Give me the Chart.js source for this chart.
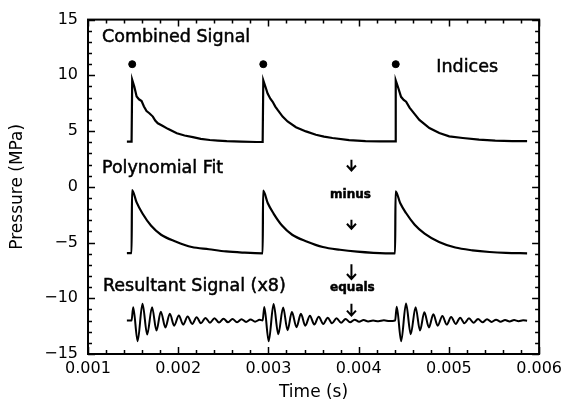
<!DOCTYPE html>
<html>
<head>
<meta charset="utf-8">
<script src="https://cdn.jsdelivr.net/npm/chart.js@4"></script>
<style>
  html, body { margin: 0; padding: 0; background: #fff; }
  #wrap { width: 567px; height: 399px; }
</style>
</head>
<body>
<div id="wrap"><canvas id="c" width="567" height="399"></canvas></div>
<script>
// ---- Data (time in seconds, pressure in MPa) ----
const combinedTime = [
  0.001431, 0.001483, 0.001490, 0.001513, 0.001539, 0.001565, 0.001594, 0.001620, 0.001649, 0.001680,
  0.001719, 0.001745, 0.001774, 0.001830, 0.001885, 0.001985, 0.002070, 0.002162, 0.002250, 0.002350,
  0.002440, 0.002538, 0.002700, 0.002869,
  0.002936, 0.002943, 0.002966, 0.002991, 0.003021, 0.003047, 0.003076, 0.003102, 0.003157, 0.003212,
  0.003305, 0.003416, 0.003526, 0.003616, 0.003710, 0.003894, 0.004076, 0.004236,
  0.004404, 0.004411, 0.004434, 0.004470, 0.004499, 0.004526, 0.004564, 0.004599, 0.004673, 0.004784,
  0.004894, 0.005004, 0.005154, 0.005334, 0.005514, 0.005704, 0.005867
];
const combinedValues = [
  4.05, 4.05, 9.6, 9.0, 8.1, 7.85, 7.7, 7.2, 6.8, 6.6,
  6.3, 5.95, 5.7, 5.45, 5.2, 4.8, 4.6, 4.45, 4.3, 4.2,
  4.15, 4.1, 4.05, 4.02,
  4.02, 9.55, 9.0, 8.36, 7.9, 7.63, 7.2, 6.9, 6.3, 5.86,
  5.35, 4.97, 4.67, 4.5, 4.38, 4.18, 4.1, 4.08,
  4.07, 9.55, 9.0, 8.07, 7.8, 7.63, 7.1, 6.74, 6.0, 5.27,
  4.82, 4.53, 4.38, 4.23, 4.14, 4.1, 4.09
];

const fitTime = [
  0.001431, 0.001483, 0.001488, 0.001539, 0.001604, 0.001700, 0.001810, 0.001970, 0.002150, 0.002340,
  0.002530, 0.002710, 0.002936,
  0.002941, 0.002992, 0.003057, 0.003153, 0.003263, 0.003423, 0.003603, 0.003793, 0.003983, 0.004163,
  0.004404,
  0.004409, 0.004460, 0.004525, 0.004621, 0.004731, 0.004891, 0.005071, 0.005261, 0.005451, 0.005631,
  0.005867
];
const fitValues = [
  -5.95, -5.95, -0.3, -1.4, -2.4, -3.5, -4.3, -4.9, -5.4, -5.6,
  -5.8, -5.9, -5.97,
  -0.35, -1.45, -2.4, -3.5, -4.3, -4.9, -5.4, -5.65, -5.82, -5.92,
  -5.98,
  -0.4, -1.45, -2.35, -3.4, -4.2, -4.95, -5.45, -5.7, -5.85, -5.93,
  -5.97
];

const resultTime = [
  0.001431, 0.001483, 0.001501, 0.001550, 0.001604, 0.001656, 0.001710, 0.001759, 0.001807, 0.001858,
  0.001907, 0.001955, 0.002007, 0.002055, 0.002104, 0.002155, 0.002204, 0.002252, 0.002302, 0.002352,
  0.002402, 0.002452, 0.002502, 0.002552, 0.002602, 0.002652, 0.002702, 0.002752, 0.002802, 0.002852,
  0.002902, 0.002936,
  0.002954, 0.003003, 0.003057, 0.003109, 0.003163, 0.003212, 0.003260, 0.003311, 0.003360, 0.003408,
  0.003460, 0.003508, 0.003557, 0.003608, 0.003657, 0.003705, 0.003755, 0.003805, 0.003855, 0.003905,
  0.003955, 0.004005, 0.004055, 0.004105, 0.004160, 0.004220, 0.004280, 0.004340, 0.004404,
  0.004422, 0.004471, 0.004525, 0.004577, 0.004631, 0.004680, 0.004728, 0.004779, 0.004828, 0.004876,
  0.004928, 0.004976, 0.005025, 0.005076, 0.005125, 0.005173, 0.005223, 0.005273, 0.005323, 0.005373,
  0.005423, 0.005473, 0.005523, 0.005573, 0.005623, 0.005673, 0.005723, 0.005773, 0.005823, 0.005867
];
const resultValues = [
  -12.00, -12.00, -10.80, -13.85, -10.50, -13.25, -10.80, -12.90, -11.20, -12.62,
  -11.38, -12.46, -11.54, -12.36, -11.64, -12.30, -11.70, -12.24, -11.76, -12.20,
  -11.80, -12.18, -11.83, -12.16, -11.86, -12.15, -11.88, -12.12, -11.90, -12.10,
  -11.93, -12.00,
  -10.78, -13.85, -10.52, -13.22, -10.82, -12.86, -11.24, -12.60, -11.40, -12.46,
  -11.56, -12.36, -11.66, -12.30, -11.74, -12.25, -11.80, -12.20, -11.85, -12.15,
  -11.92, -12.10, -11.96, -12.08, -12.00, -12.06, -11.98, -12.05, -12.00,
  -10.75, -13.85, -10.48, -13.22, -10.80, -12.90, -11.26, -12.62, -11.43, -12.46,
  -11.58, -12.36, -11.68, -12.30, -11.74, -12.25, -11.80, -12.20, -11.85, -12.16,
  -11.88, -12.12, -11.92, -12.10, -11.95, -12.08, -11.96, -12.06, -11.98, -12.02
];

const indexTime = [0.001490, 0.002943, 0.004411];
const indexValues = [11, 11, 11];

const xTickValues = [0.001, 0.002, 0.003, 0.004, 0.005, 0.006];
const yTickValues = [-15, -10, -5, 0, 5, 10, 15];

// ---- Annotation texts (placed in data coordinates) ----
const labels = [
  { text: 'Combined Signal', t: 0.001155, v: 13.4, align: 'left', font: '17.5px "DejaVu Sans"' },
  { text: 'Indices', t: 0.004861, v: 10.75, align: 'left', font: '17.5px "DejaVu Sans"' },
  { text: 'Polynomial Fit', t: 0.001155, v: 1.64, align: 'left', font: '17.5px "DejaVu Sans"' },
  { text: 'minus', t: 0.003909, v: -0.75, align: 'center', font: 'bold 12px "DejaVu Sans"' },
  { text: 'Resultant Signal (x8)', t: 0.001166, v: -8.9, align: 'left', font: '17.5px "DejaVu Sans"' },
  { text: 'equals', t: 0.003931, v: -9.07, align: 'center', font: 'bold 12px "DejaVu Sans"' }
];
const arrows = [
  { t: 0.00392, v1: 2.43, v2: 1.46 },
  { t: 0.00392, v1: -2.96, v2: -3.76 },
  { t: 0.00392, v1: -6.95, v2: -8.27 },
  { t: 0.00392, v1: -10.49, v2: -11.55 }
];

const pts = (ts, vs) => ts.map((t, i) => ({ x: t, y: vs[i] }));

const framePlugin = {
  id: 'frame',
  afterDraw(chart) {
    const { ctx, chartArea: a, scales } = chart;
    const xs = scales.x, ys = scales.y;
    ctx.save();
    ctx.strokeStyle = '#000';
    ctx.lineWidth = 2;
    ctx.strokeRect(a.left, a.top, a.right - a.left, a.bottom - a.top);
    ctx.lineWidth = 1.5;
    ctx.beginPath();
    for (let i = 0; i <= 25; i++) {
      const v = xTickValues[0] + i * 0.0002;
      const px = Math.round(xs.getPixelForValue(v)) + 0.5;
      const L = i % 5 === 0 ? 7 : 4;
      ctx.moveTo(px, a.bottom); ctx.lineTo(px, a.bottom - L);
      ctx.moveTo(px, a.top); ctx.lineTo(px, a.top + L);
    }
    for (let i = 0; i <= 30; i++) {
      const v = yTickValues[0] + i;
      const py = Math.round(ys.getPixelForValue(v)) + 0.5;
      const L = i % 5 === 0 ? 7 : 4;
      ctx.moveTo(a.left, py); ctx.lineTo(a.left + L, py);
      ctx.moveTo(a.right, py); ctx.lineTo(a.right - L, py);
    }
    ctx.stroke();

    // annotations
    ctx.fillStyle = '#000';
    ctx.strokeStyle = '#000';
    ctx.textBaseline = 'middle';
    labels.forEach(l => {
      ctx.font = l.font;
      ctx.textAlign = l.align;
      const x = xs.getPixelForValue(l.t), y = ys.getPixelForValue(l.v);
      ctx.lineWidth = 0.5;
      ctx.fillText(l.text, x, y);
      ctx.strokeText(l.text, x, y);
    });
    ctx.lineWidth = 2;
    arrows.forEach(ar => {
      const x = xs.getPixelForValue(ar.t);
      const y1 = ys.getPixelForValue(ar.v1), y2 = ys.getPixelForValue(ar.v2);
      ctx.beginPath();
      ctx.moveTo(x, y1); ctx.lineTo(x, y2);
      ctx.moveTo(x - 4.5, y2 - 5); ctx.lineTo(x, y2); ctx.lineTo(x + 4.5, y2 - 5);
      ctx.stroke();
    });
    ctx.restore();
  }
};

new Chart(document.getElementById('c'), {
  type: 'scatter',
  data: {
    datasets: [
      { data: pts(combinedTime, combinedValues), showLine: true, borderColor: '#000', borderWidth: 2.2, pointRadius: 0, tension: 0 },
      { data: pts(fitTime, fitValues), showLine: true, borderColor: '#000', borderWidth: 2.2, pointRadius: 0, cubicInterpolationMode: 'monotone' },
      { data: pts(resultTime, resultValues), showLine: true, borderColor: '#000', borderWidth: 2, pointRadius: 0, cubicInterpolationMode: 'monotone' },
      { data: pts(indexTime, indexValues), showLine: false, pointRadius: 3.5, pointBackgroundColor: '#000', pointBorderColor: '#000' }
    ]
  },
  options: {
    responsive: false,
    animation: false,
    maintainAspectRatio: false,
    layout: { padding: { left: 0, right: 27, top: 15, bottom: 0 } },
    plugins: { legend: { display: false }, tooltip: { enabled: false } },
    scales: {
      x: {
        type: 'linear', min: 0.001, max: 0.006,
        grid: { display: false, drawTicks: false }, border: { display: false },
        afterBuildTicks: s => { s.ticks = xTickValues.map(v => ({ value: v })); },
        afterFit: s => { s.height = 45; },
        ticks: { color: '#000', font: { family: 'DejaVu Sans', size: 16 }, padding: 5, maxRotation: 0,
                 callback: v => Number(v).toFixed(3) },
        title: { display: true, text: 'Time (s)', color: '#000', font: { family: 'DejaVu Sans', size: 17, lineHeight: 1 }, padding: { top: 0, bottom: -2.5 } }
      },
      y: {
        type: 'linear', min: -15, max: 15,
        grid: { display: false, drawTicks: false }, border: { display: false },
        afterBuildTicks: s => { s.ticks = yTickValues.map(v => ({ value: v })); },
        afterFit: s => { s.width = 88; },
        ticks: { color: '#000', font: { family: 'DejaVu Sans', size: 16 }, padding: 10,
                 callback: v => String(v).replace('-', '\u2212') },
        title: { display: true, text: 'Pressure (MPa)', color: '#000', font: { family: 'DejaVu Sans', size: 17, lineHeight: 1 }, padding: { top: 9, bottom: 0 } }
      }
    }
  },
  plugins: [framePlugin]
});
</script>
</body>
</html>
